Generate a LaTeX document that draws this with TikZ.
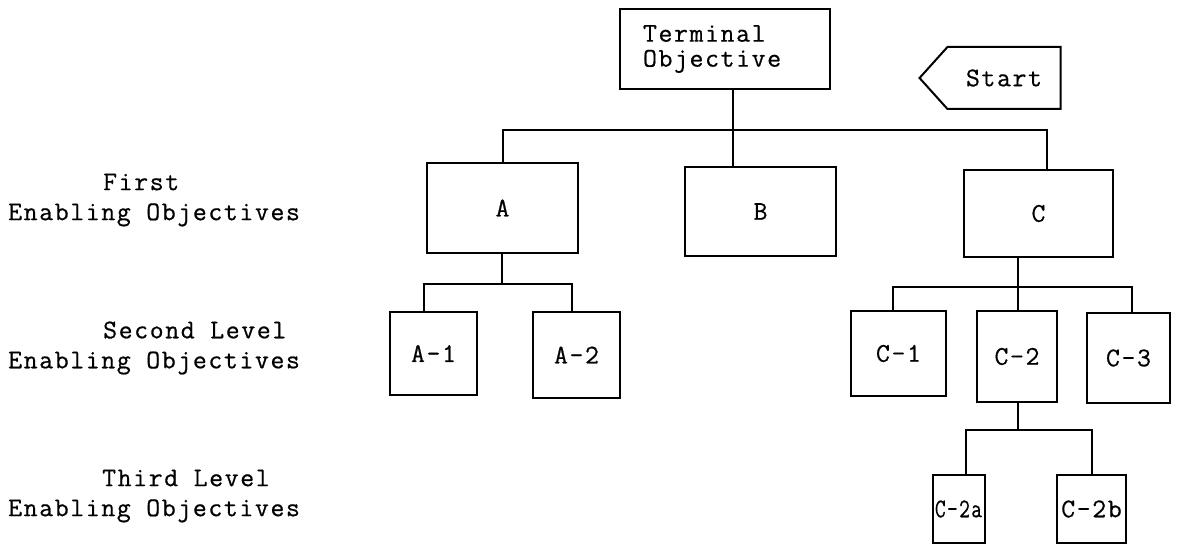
\documentclass[tikz,border=0pt]{standalone}
\usepackage{graphicx}
\usepackage{fontspec}
\setmonofont[LetterSpace=6, FakeBold=0.6]{Latin Modern Mono}
\usetikzlibrary{shapes.symbols, positioning, calc}

\newcommand{\objfont}{\ttfamily\fontsize{27}{25}\selectfont}
\newcommand{\lvlfont}{\ttfamily\fontsize{27}{30}\selectfont}
\tikzset{
  obj/.style={draw, line width=2pt, inner sep=0pt, font=\objfont},
  lvl/.style={anchor=west, align=left, inner sep=0pt, font=\lvlfont},
  link/.style={line width=2pt},
}

\begin{document}
\begin{tikzpicture}[x=1pt, y=-1pt]
\useasboundingbox (0,0) rectangle (1178,545);

% level labels
\node[lvl] (first)  at (8,200) {\hspace*{95pt}First\\Enabling Objectives};
\node[lvl] (second) at (8,348) {\hspace*{95pt}Second Level\\Enabling Objectives};
\node[lvl] (third)  at (8,496) {\hspace*{94pt}Third Level\\Enabling Objectives};

% terminal objective and start
\node[obj, minimum width=210, minimum height=80, text width=164, align=left] (term) at (725,49) {Terminal\\Objective};
\node[obj, signal, signal to=west, signal from=nowhere, signal pointer angle=96,
      minimum width=141, minimum height=62] (start) at (1004,78) {Start};

% objective boxes
\foreach \name/\x/\y/\w/\h/\txt in {A/502.5/208/151/90/A, B/760.5/211.5/151/89/B,
    C/1038.5/213.5/149/87/C, A1/433.5/353.5/87/83/A-1, A2/576.5/355/87/86/A-2,
    C1/898.5/353.5/95/85/C-1, C2/1017/356.5/80/91/C-2, C3/1128.5/358/83/90/C-3,
    C2b/1091.5/509/69/68/C-2b} {
  \node[obj, minimum width=\w, minimum height=\h] (\name) at (\x,\y) {\txt};
}
\node[obj, minimum width=52, minimum height=68] (C2a) at (958.5,509) {\scalebox{0.78}[1]{C-2a}};

% first level lines
\coordinate (bus) at (733,130);
\draw[link] (term.south -| bus) -- (B.north -| bus);
\draw[link] (A.north) |- (bus) -| ([xshift=8.5pt]C.north);

% second level lines
\coordinate (abus) at (502,284);
\draw[link] (A.south -| abus) -- (abus);
\draw[link] ([xshift=-9.5pt]A1.north) |- (abus) -| ([xshift=-4.5pt]A2.north);
\coordinate (cbus) at (1018,287);
\draw[link] (C.south -| cbus) -- (C2.north -| cbus);
\draw[link] ([xshift=-5.5pt]C1.north) |- (cbus) -| ([xshift=3.5pt]C3.north);

% third level lines
\coordinate (c2bus) at (1018,430);
\draw[link] (C2.south -| c2bus) -- (c2bus);
\draw[link] ([xshift=7.5pt]C2a.north) |- (c2bus) -| (C2b.north);
\end{tikzpicture}
\end{document}
